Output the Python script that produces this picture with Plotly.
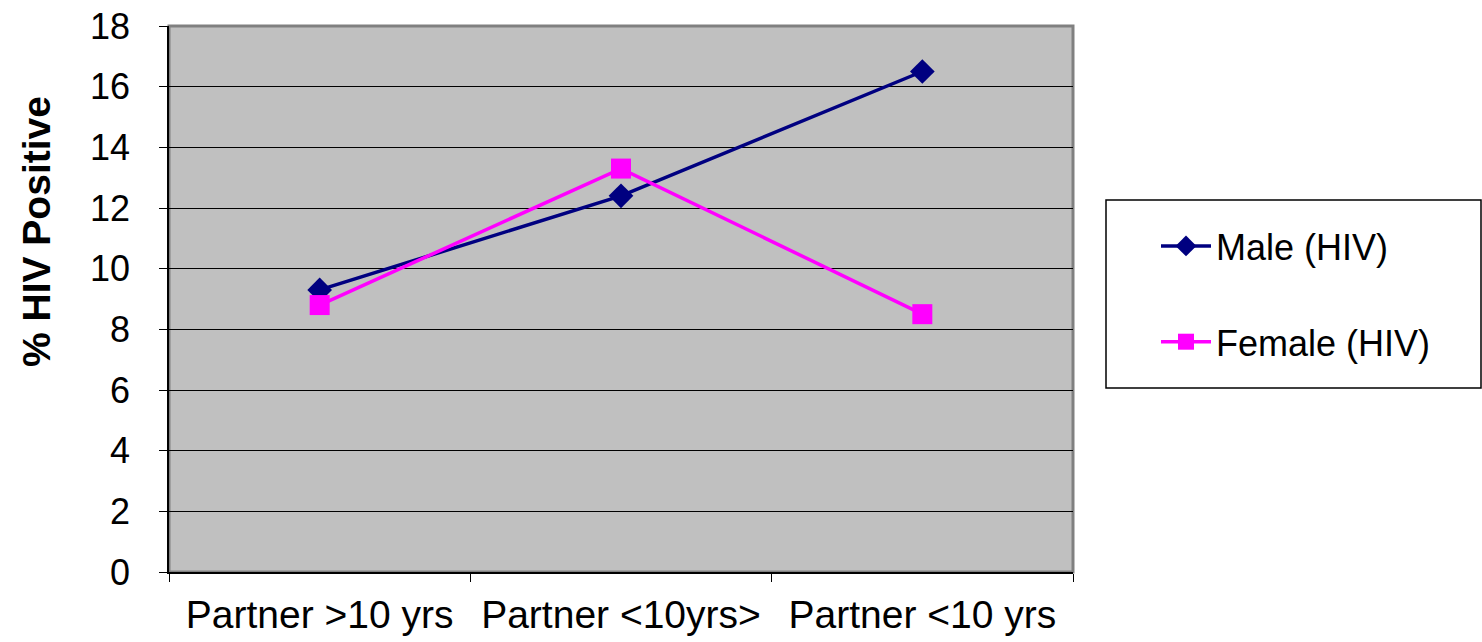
import plotly.graph_objects as go

categories = ["Partner >10 yrs", "Partner <10yrs>", "Partner <10 yrs"]
male_hiv = [9.3, 12.4, 16.5]
female_hiv = [8.8, 13.3, 8.5]
y_ticks = [0, 2, 4, 6, 8, 10, 12, 14, 16, 18]

FONT = "Liberation Sans, Arial, sans-serif"

fig = go.Figure()
fig.add_trace(go.Scatter(
    x=categories, y=male_hiv, name="Male (HIV)", mode="lines+markers",
    line=dict(color="#000080", width=3.5),
    marker=dict(symbol="diamond", size=19, color="#000080"),
    legendgroup="m",
))
fig.add_trace(go.Scatter(
    x=categories, y=female_hiv, name="Female (HIV)", mode="lines+markers",
    line=dict(color="#FF00FF", width=3.5),
    marker=dict(symbol="square", size=20, color="#FF00FF"),
    legendgroup="f",
))

# plot-area frame (grey) and legend box
fig.add_shape(type="rect", xref="paper", yref="paper", x0=0, x1=1, y0=0, y1=1,
              line=dict(color="#808080", width=3), layer="below")
fig.add_shape(type="rect", xref="paper", yref="paper",
              x0=(1106 - 169) / 904, x1=(1481 - 169) / 904,
              y0=(572 - 388) / 546, y1=(572 - 200) / 546,
              line=dict(color="#000000", width=1.5), fillcolor="white")

# y-axis title
fig.add_annotation(
    text="<b>% HIV Positive</b>", textangle=-90,
    xref="paper", yref="paper",
    x=(36 - 169) / 904, y=(572 - 232) / 546,
    xanchor="center", yanchor="middle", showarrow=False,
    font=dict(family=FONT, size=39, color="black"),
)

fig.update_layout(
    width=1482, height=642,
    margin=dict(l=169, r=409, t=26, b=70),
    paper_bgcolor="white", plot_bgcolor="#C0C0C0",
    font=dict(family=FONT, size=36, color="black"),
    showlegend=True,
    legend=dict(
        x=(1156 - 169) / 904, y=(572 - 216) / 546, xanchor="left", yanchor="top",
        font=dict(family=FONT, size=36, color="black"),
        bgcolor="rgba(0,0,0,0)", borderwidth=0,
        traceorder="grouped", tracegroupgap=46,
        itemwidth=50,
    ),
    xaxis=dict(
        type="category", range=[-0.5, 2.5], automargin=False,
        showline=True, linecolor="black", linewidth=1.5,
        ticks="outside", tickson="boundaries", ticklen=8, tickcolor="black",
        showgrid=False, zeroline=False,
        tickfont=dict(size=39), ticklabelstandoff=7,
    ),
    yaxis=dict(
        range=[0, 18], tickvals=y_ticks, automargin=False,
        showline=True, linecolor="black", linewidth=1.5,
        ticks="outside", ticklen=8, tickcolor="black",
        showgrid=True, gridcolor="black", gridwidth=1,
        zeroline=False,
        tickfont=dict(size=36), ticklabelstandoff=22,
    ),
)

fig.write_html("out.html")
